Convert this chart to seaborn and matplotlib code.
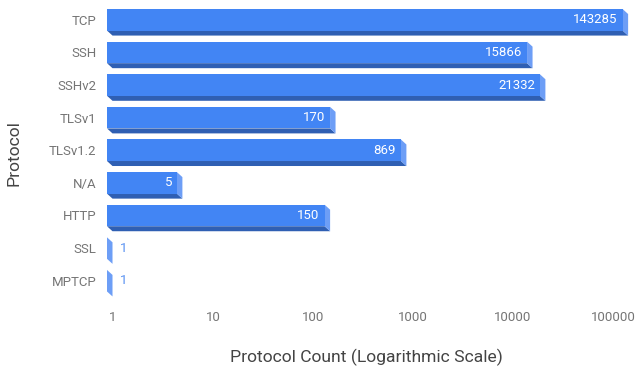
import matplotlib
matplotlib.use("Agg")
import matplotlib.pyplot as plt
import matplotlib.transforms as mtransforms
from matplotlib.patches import Polygon
import seaborn as sns
import pandas as pd

protocols = ["TCP", "SSH", "SSHv2", "TLSv1", "TLSv1.2", "N/A", "HTTP", "SSL", "MPTCP"]
counts = [143285, 15866, 21332, 170, 869, 5, 150, 1, 1]
tick_values = [1, 10, 100, 1000, 10000, 100000]
tick_labels = ["1", "10", "100", "1000", "10000", "100000"]

FRONT = "#4285f4"
SIDE = "#6d9ef6"
BOTTOM = "#2f5fb3"
OUTSIDE_LABEL = "#5b93f2"
TICK_GREY = "#757575"
TITLE_GREY = "#444444"

sns.set_theme(style="white")
plt.rcParams["font.family"] = ["Roboto", "DejaVu Sans"]

df = pd.DataFrame({"Protocol": protocols, "Count": counts})

DPI = 100
W, H = 635, 369
fig = plt.figure(figsize=(W / DPI, H / DPI), dpi=DPI)
ax_left, ax_right = 107, 627
ax_top, ax_bottom = 3.5, 297.0
ax_w, ax_h = ax_right - ax_left, ax_bottom - ax_top
ax = fig.add_axes([ax_left / W, 1 - ax_bottom / H, ax_w / W, ax_h / H])

ax.set_xscale("log")
BAR_W = 0.66
sns.barplot(data=df, x="Count", y="Protocol", orient="h", color=FRONT,
            width=BAR_W, linewidth=0, saturation=1, ax=ax, zorder=3)

ax.set_xlim(1, 10 ** 5.2)
ax.set_ylim(len(protocols) - 0.5, -0.5)
ax.set_xticks(tick_values)
ax.set_xticklabels(tick_labels)
ax.xaxis.set_minor_locator(matplotlib.ticker.NullLocator())
ax.tick_params(axis="both", length=0, labelsize=9.5, colors=TICK_GREY)
ax.tick_params(axis="x", pad=10)
ax.tick_params(axis="y", pad=7.5)
for s in ax.spines.values():
    s.set_visible(False)
ax.grid(False)

shift = mtransforms.ScaledTranslation(6 / DPI, 0, fig.dpi_scale_trans)
for lab in ax.get_xticklabels():
    lab.set_transform(lab.get_transform() + shift)

ax.set_xlabel("Protocol Count (Logarithmic Scale)", fontsize=12.6,
              color=TITLE_GREY)
ax.set_ylabel("Protocol", fontsize=12.6, color=TITLE_GREY)
ax.xaxis.set_label_coords((366 - ax_left) / ax_w, (ax_bottom - 349) / ax_h)
ax.yaxis.set_label_coords((21 - ax_left) / ax_w, (ax_bottom - 153) / ax_h)

# 3D depth faces, drawn in pixel space so the extrusion has a fixed size
dx, dy = 5.5, 5.0
ident = mtransforms.IdentityTransform()
half = BAR_W / 2
for i, (name, val) in enumerate(zip(protocols, counts)):
    (x0, y_top), = ax.transData.transform([(1, i - half)])
    (x1, y_bot), = ax.transData.transform([(val, i + half)])
    bottom_face = Polygon([(x0, y_bot), (x1, y_bot), (x1 + dx, y_bot - dy),
                           (x0 + dx, y_bot - dy)], closed=True,
                          facecolor=BOTTOM, edgecolor="none",
                          transform=ident, clip_on=False, zorder=2)
    side_face = Polygon([(x1, y_top), (x1 + dx, y_top - dy),
                         (x1 + dx, y_bot - dy), (x1, y_bot)], closed=True,
                        facecolor=SIDE, edgecolor="none",
                        transform=ident, clip_on=False, zorder=2)
    ax.add_artist(bottom_face)
    ax.add_artist(side_face)

    # value labels: inside the bar end when there is room, otherwise after it
    if val >= 5:
        ax.annotate(f"{val}", xy=(val, i), xytext=(-3.5, 0),
                    textcoords="offset points", ha="right", va="center",
                    color="white", fontsize=9.5, zorder=5)
    else:
        ax.annotate(f"{val}", xy=(val, i), xytext=(9, 0),
                    textcoords="offset points", ha="left", va="center",
                    color=OUTSIDE_LABEL, fontsize=9.5, zorder=5)

fig.savefig("out.png", dpi=DPI)
